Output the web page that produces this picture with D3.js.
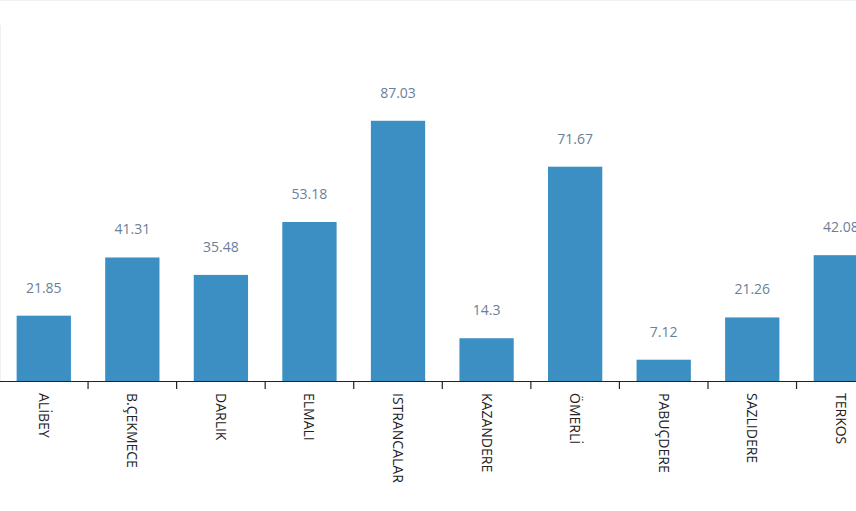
<!DOCTYPE html>
<html>
<head>
<meta charset="utf-8">
<script src="https://cdn.jsdelivr.net/npm/d3@7/dist/d3.min.js"></script>
<style>
  html, body { margin: 0; padding: 0; background: #fff; }
  svg { display: block; }
</style>
</head>
<body>
<svg id="chart" width="856" height="511"></svg>
<script>
const categories = ["ALİBEY", "B.ÇEKMECE", "DARLIK", "ELMALI", "ISTRANCALAR", "KAZANDERE", "ÖMERLİ", "PABUÇDERE", "SAZLIDERE", "TERKOS"];
const values = [21.85, 41.31, 35.48, 53.18, 87.03, 14.3, 71.67, 7.12, 21.26, 42.08];
const valueLabels = ["21.85", "41.31", "35.48", "53.18", "87.03", "14.3", "71.67", "7.12", "21.26", "42.08"];

const data = categories.map((c, i) => ({ cat: c, value: values[i], label: valueLabels[i] }));

const svg = d3.select("#chart");
const baseY = 381;
const step = 88.56;
const x0 = -0.5;

const x = d3.scaleBand()
  .domain(categories)
  .range([x0, x0 + step * categories.length])
  .paddingInner(0.387)
  .paddingOuter(0.1935);

const y = d3.scaleLinear().domain([0, 100]).range([baseY, baseY - 299]);

// faint frame lines
svg.append("line").attr("x1", 0.5).attr("x2", 0.5).attr("y1", 25).attr("y2", baseY)
  .attr("stroke", "#eef0f2").attr("stroke-width", 1);
svg.append("line").attr("x1", 0).attr("x2", 856).attr("y1", 0.5).attr("y2", 0.5)
  .attr("stroke", "#eef2f2").attr("stroke-width", 1);

// bars
svg.append("g").selectAll("rect").data(data).join("rect")
  .attr("x", d => x(d.cat))
  .attr("y", d => y(d.value))
  .attr("width", x.bandwidth())
  .attr("height", d => y(0) - y(d.value))
  .attr("fill", "#3b8fc2");

// value labels
svg.append("g").selectAll("text").data(data).join("text")
  .attr("x", d => x(d.cat) + x.bandwidth() / 2)
  .attr("y", d => y(d.value) - 23)
  .attr("text-anchor", "middle")
  .attr("font-family", "'Open Sans', sans-serif")
  .attr("font-size", 14)
  .attr("fill", "#6a8099")
  .text(d => d.label);

// x axis
const axis = d3.axisBottom(x).tickSize(0).tickSizeOuter(0).tickFormat("");
const gx = svg.append("g").attr("transform", `translate(0,${baseY})`).call(axis);
gx.select(".domain").attr("stroke", "#222").attr("stroke-width", 1.2);
gx.selectAll(".tick").remove();

// ticks at band boundaries
const boundaries = categories.map(c => x(c) + x.bandwidth() + x.step() * x.paddingInner() / 2);
svg.append("g").selectAll("line").data(boundaries).join("line")
  .attr("x1", d => d).attr("x2", d => d)
  .attr("y1", baseY).attr("y2", baseY + 8)
  .attr("stroke", "#222").attr("stroke-width", 1.2);

// category labels
svg.append("g").selectAll("text").data(data).join("text")
  .attr("transform", d => `translate(${x(d.cat) + x.bandwidth() / 2 - 5},${baseY + 12}) rotate(90)`)
  .attr("text-anchor", "start")
  .attr("font-family", "'Open Sans', sans-serif")
  .attr("font-size", 14)
  .attr("fill", "#222")
  .text(d => d.cat);
</script>
</body>
</html>
